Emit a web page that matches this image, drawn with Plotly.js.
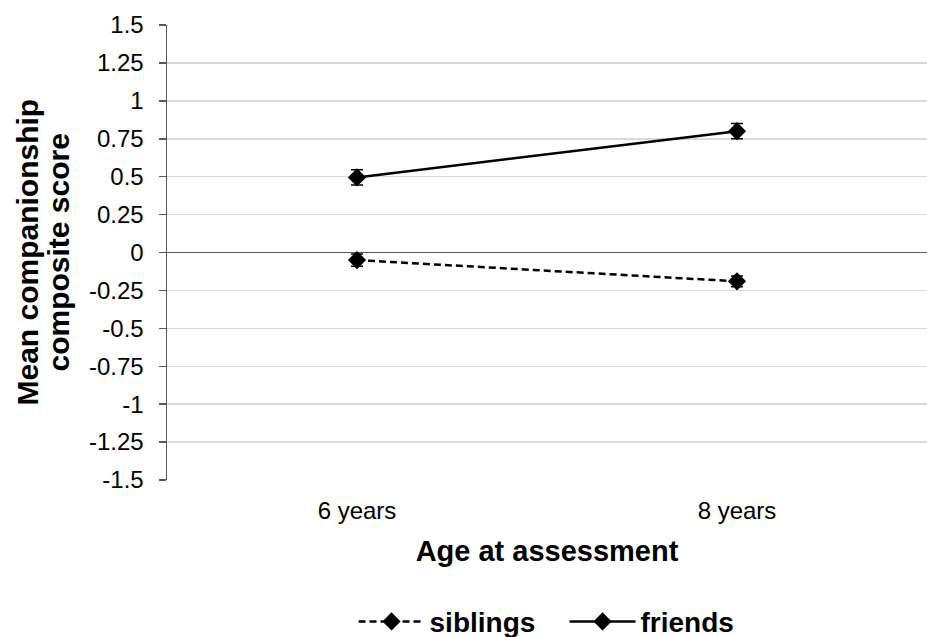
<!DOCTYPE html>
<html>
<head>
<meta charset="utf-8">
<script src="https://cdn.plot.ly/plotly-3.0.1.min.js"></script>
<style>html,body{margin:0;padding:0;background:#fff;}#chart{width:927px;height:637px;}</style>
</head>
<body>
<div id="chart"></div>
<script>
const ages = ["6 years", "8 years"];
const siblings = [-0.05, -0.19];
const siblingsErr = [0.04, 0.035];
const friends = [0.495, 0.80];
const friendsErr = [0.05, 0.05];
const yTicks = [1.5, 1.25, 1, 0.75, 0.5, 0.25, 0, -0.25, -0.5, -0.75, -1, -1.25, -1.5];
const yTitleLines = ["Mean companionship", "composite score"];

const font = "Liberation Sans, Arial, sans-serif";
const traces = [
  {
    x: ages, y: siblings, name: "siblings", type: "scatter", mode: "lines+markers",
    line: {color: "#000", width: 2.5, dash: "7px,4px"},
    marker: {symbol: "diamond", size: 14, color: "#000"},
    error_y: {type: "data", array: siblingsErr, visible: true, color: "#000", thickness: 1.5, width: 6}
  },
  {
    x: ages, y: friends, name: "friends", type: "scatter", mode: "lines+markers",
    line: {color: "#000", width: 2.5},
    marker: {symbol: "diamond", size: 14, color: "#000"},
    error_y: {type: "data", array: friendsErr, visible: true, color: "#000", thickness: 1.5, width: 6}
  }
];

const plotW = 760;
const layout = {
  width: 927, height: 637,
  margin: {l: 167, r: 0, t: 25, b: 157, autoexpand: false},
  paper_bgcolor: "#fff", plot_bgcolor: "#fff",
  font: {family: font, color: "#000", size: 24},
  showlegend: true,
  legend: {
    orientation: "h", x: 0.609, xref: "container", xanchor: "center",
    y: 0.024, yref: "container", yanchor: "middle",
    font: {family: font, size: 28, color: "#000", weight: "bold"},
    itemwidth: 66, tracegroupgap: 0,
    entrywidth: 130, entrywidthmode: "pixels"
  },
  xaxis: {
    type: "category", range: [-0.5, 1.5],
    showgrid: false, showline: false, zeroline: false, ticks: "",
    ticklabelstandoff: 14,
    tickfont: {family: font, size: 24, color: "#000"},
    title: {text: "<b>Age at assessment</b>", font: {family: font, size: 29, color: "#000"}, standoff: 17}
  },
  yaxis: {
    range: [-1.5, 1.5], tickvals: yTicks, ticktext: yTicks.map(String),
    showgrid: true, gridcolor: "#d9d9d9", gridwidth: 1.5,
    zeroline: true, zerolinecolor: "#595959", zerolinewidth: 1.5,
    showline: true, linecolor: "#595959", linewidth: 1.5,
    ticks: "outside", ticklen: 7, tickcolor: "#595959", tickwidth: 1.5,
    ticklabelstandoff: 10,
    tickfont: {family: font, size: 24, color: "#000"}
  },
  annotations: yTitleLines.map((t, i) => ({
    text: "<b>" + t + "</b>", textangle: -90, showarrow: false,
    xref: "paper", yref: "paper", x: ([27, 58][i] - 167) / plotW, y: 0.5,
    xanchor: "center", yanchor: "middle",
    font: {family: font, size: 30, color: "#000"}
  }))
};

Plotly.newPlot("chart", traces, layout, {displayModeBar: false, staticPlot: true});
</script>
</body>
</html>
